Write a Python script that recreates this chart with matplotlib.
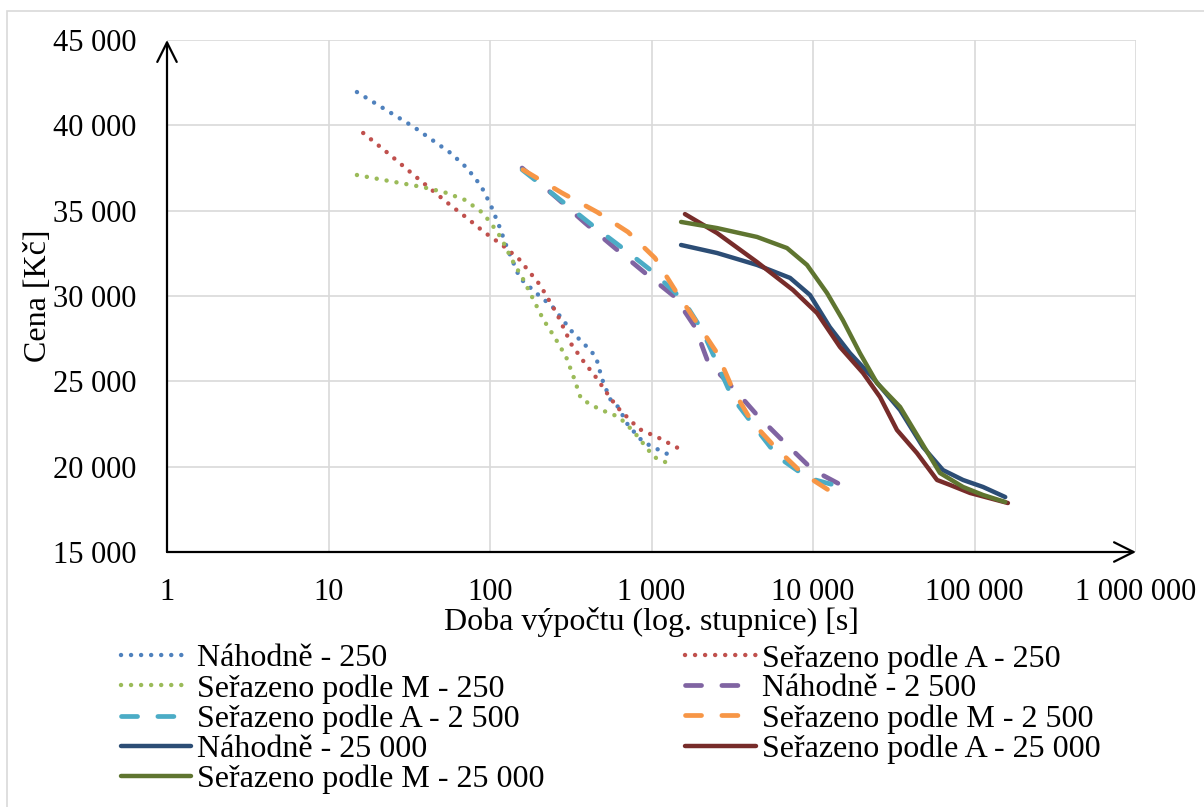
import matplotlib
matplotlib.use('Agg')
import matplotlib.pyplot as plt
from matplotlib.ticker import FuncFormatter, FixedLocator
from matplotlib.patches import Rectangle

plt.rcParams['font.family'] = ['Liberation Serif', 'DejaVu Serif']

# --- data (x = doba výpočtu [s], y = cena [Kč]) ---
x_nah_250 = [15, 33.8, 57, 72, 88, 101, 114, 127, 153, 193, 245, 327, 410, 453, 494,
             553, 621, 715, 886, 1178, 1340]
y_nah_250 = [41950, 39900, 38380, 37500, 36450, 35330, 34100, 32870, 31050, 30180, 29350,
             27830, 26900, 26430, 25140, 23970, 23500, 22440, 21450, 20860, 20620]

x_a_250 = [16.4, 23.7, 34.3, 43.7, 55.7, 72, 91.8, 119, 151, 204, 260, 318, 382, 467,
           508, 611, 837, 1113, 1459]
y_a_250 = [39550, 38320, 37030, 36210, 35390, 34570, 33750, 32990, 32170, 30650, 28950,
           27190, 26130, 25080, 24550, 23500, 22210, 21680, 21090]

x_m_250 = [15, 23.7, 37.9, 51.9, 70, 90.5, 110, 119, 137, 160, 185, 213, 253, 296, 331,
           366, 473, 629, 780, 1035, 1378]
y_m_250 = [37090, 36740, 36390, 36090, 35630, 34860, 33810, 33280, 32110, 31000, 29820,
           28650, 27540, 26430, 25200, 23970, 23380, 22910, 22030, 20570, 20040]

x_nah_2500 = [158, 260, 388, 594, 912, 1399, 1860, 2239, 3290, 4500, 6710, 10000, 16200]
y_nah_2500 = [37500, 35740, 34280, 32810, 31350, 29940, 28180, 26130, 24490, 23030,
              21390, 19800, 18750]

x_a_2500 = [158, 283, 428, 685, 1021, 1567, 2055, 2546, 3150, 4370, 6070, 9310, 15800, 17000]
y_a_2500 = [37400, 35510, 34160, 32700, 31410, 29770, 28010, 26070, 24080, 22320, 20570,
            19340, 18750, 18700]

x_m_2500 = [160, 279, 460, 715, 1050, 1399, 1915, 2546, 3200, 4190, 5820, 8550, 13300, 14500]
y_m_2500 = [37400, 36040, 34920, 33750, 32230, 30350, 28420, 26660, 24490, 22620, 21150,
            19630, 18460, 18300]

x_nah_25000 = [1524, 2546, 4500, 7210, 9580, 12700, 16900, 23500, 34600, 48000, 63800,
               84900, 113000, 155000]
y_nah_25000 = [32990, 32520, 31820, 31060, 30060, 28180, 26660, 25200, 23320, 21150,
               19800, 19220, 18810, 18220]

x_a_25000 = [1611, 2546, 4500, 7520, 10600, 14700, 20400, 26000, 33100, 44000, 58600,
             70500, 93800, 161000]
y_a_25000 = [34800, 33690, 31990, 30350, 29000, 27010, 25490, 24080, 22150, 20800, 19220,
             18930, 18460, 17870]

x_m_25000 = [1524, 2546, 4500, 6900, 9180, 12200, 15300, 19500, 24900, 34600, 46000,
             61100, 84900, 113000, 155000]
y_m_25000 = [34340, 33980, 33460, 32810, 31820, 30180, 28590, 26660, 24900, 23500, 21560,
             19630, 18810, 18340, 17930]

labels = ['Náhodně - 250', 'Seřazeno podle A - 250', 'Seřazeno podle M - 250',
          'Náhodně - 2 500', 'Seřazeno podle A - 2 500', 'Seřazeno podle M - 2 500',
          'Náhodně - 25 000', 'Seřazeno podle A - 25 000', 'Seřazeno podle M - 25 000']
colors = ['#4F81BD', '#C0504D', '#9BBB59',
          '#8064A2', '#4BACC6', '#F79646',
          '#2C4D75', '#772C2A', '#5F7530']

series = [(x_nah_250, y_nah_250), (x_a_250, y_a_250), (x_m_250, y_m_250),
          (x_nah_2500, y_nah_2500), (x_a_2500, y_a_2500), (x_m_2500, y_m_2500),
          (x_nah_25000, y_nah_25000), (x_a_25000, y_a_25000), (x_m_25000, y_m_25000)]

fig = plt.figure(figsize=(12.04, 8.07), dpi=100)
fig.patches.append(Rectangle((7 / 1204, -0.02), 1.1, 1 - 11 / 807 + 0.02,
                             transform=fig.transFigure, fill=False,
                             edgecolor='#d9d9d9', lw=1.2))
ax = fig.add_axes([167 / 1204, 1 - 552 / 807, (1136 - 167) / 1204, (552 - 40) / 807])

lines = []
for i, ((xs, ys), lab, col) in enumerate(zip(series, labels, colors)):
    if i < 3:
        # dotted (250)
        ln, = ax.plot(xs, ys, color=col, lw=3.2, linestyle=(0, (0.01, 2.25)),
                      dash_capstyle='round', label=lab)
    elif i < 6:
        # dashed (2 500)
        ln, = ax.plot(xs, ys, color=col, lw=3.4, linestyle=(0, (3.4, 4.3)),
                      dash_capstyle='round', label=lab)
    else:
        # solid (25 000)
        ln, = ax.plot(xs, ys, color=col, lw=3.2, solid_capstyle='round',
                      solid_joinstyle='round', label=lab)
    lines.append(ln)

ax.set_xscale('log')
ax.set_xlim(1, 1e6)
ax.set_ylim(15000, 45000)
ax.xaxis.set_major_locator(FixedLocator([1, 10, 100, 1e3, 1e4, 1e5, 1e6]))
ax.xaxis.set_minor_locator(FixedLocator([]))
ax.yaxis.set_major_locator(FixedLocator(list(range(15000, 45001, 5000))))


def fmt(v, pos):
    return f'{int(round(v)):,}'.replace(',', ' ')


ax.xaxis.set_major_formatter(FuncFormatter(fmt))
ax.yaxis.set_major_formatter(FuncFormatter(fmt))
ax.tick_params(axis='both', length=0, labelsize=22, colors='black')
ax.tick_params(axis='x', pad=19)
ax.tick_params(axis='y', pad=22)
ax.grid(True, color='#d9d9d9', lw=1.2)
ax.set_axisbelow(True)
for s in ax.spines.values():
    s.set_visible(False)

# axis arrows
arrow = dict(arrowstyle='->, head_length=0.7, head_width=0.35', lw=1.6,
             color='black', mutation_scale=20, shrinkA=0, shrinkB=0)
ax.annotate('', xy=(0, 1), xytext=(0, 0), xycoords='axes fraction', arrowprops=arrow)
ax.annotate('', xy=(1, 0), xytext=(0, 0), xycoords='axes fraction', arrowprops=arrow)

ax.set_xlabel('Doba výpočtu (log. stupnice) [s]', fontsize=23, labelpad=0)
ax.set_ylabel('Cena [Kč]', fontsize=23, labelpad=0)

order = [0, 2, 4, 6, 8, 1, 3, 5, 7]
fig.legend([lines[k] for k in order], [labels[k] for k in order], ncol=2,
           loc='upper left', bbox_to_anchor=(121 / 1204, 1 - 644 / 807),
           frameon=False, fontsize=23, handlelength=2.2, handletextpad=0.19,
           labelspacing=0.02, columnspacing=4.4, borderaxespad=0, borderpad=0)

fig.savefig('out.png', dpi=100)
